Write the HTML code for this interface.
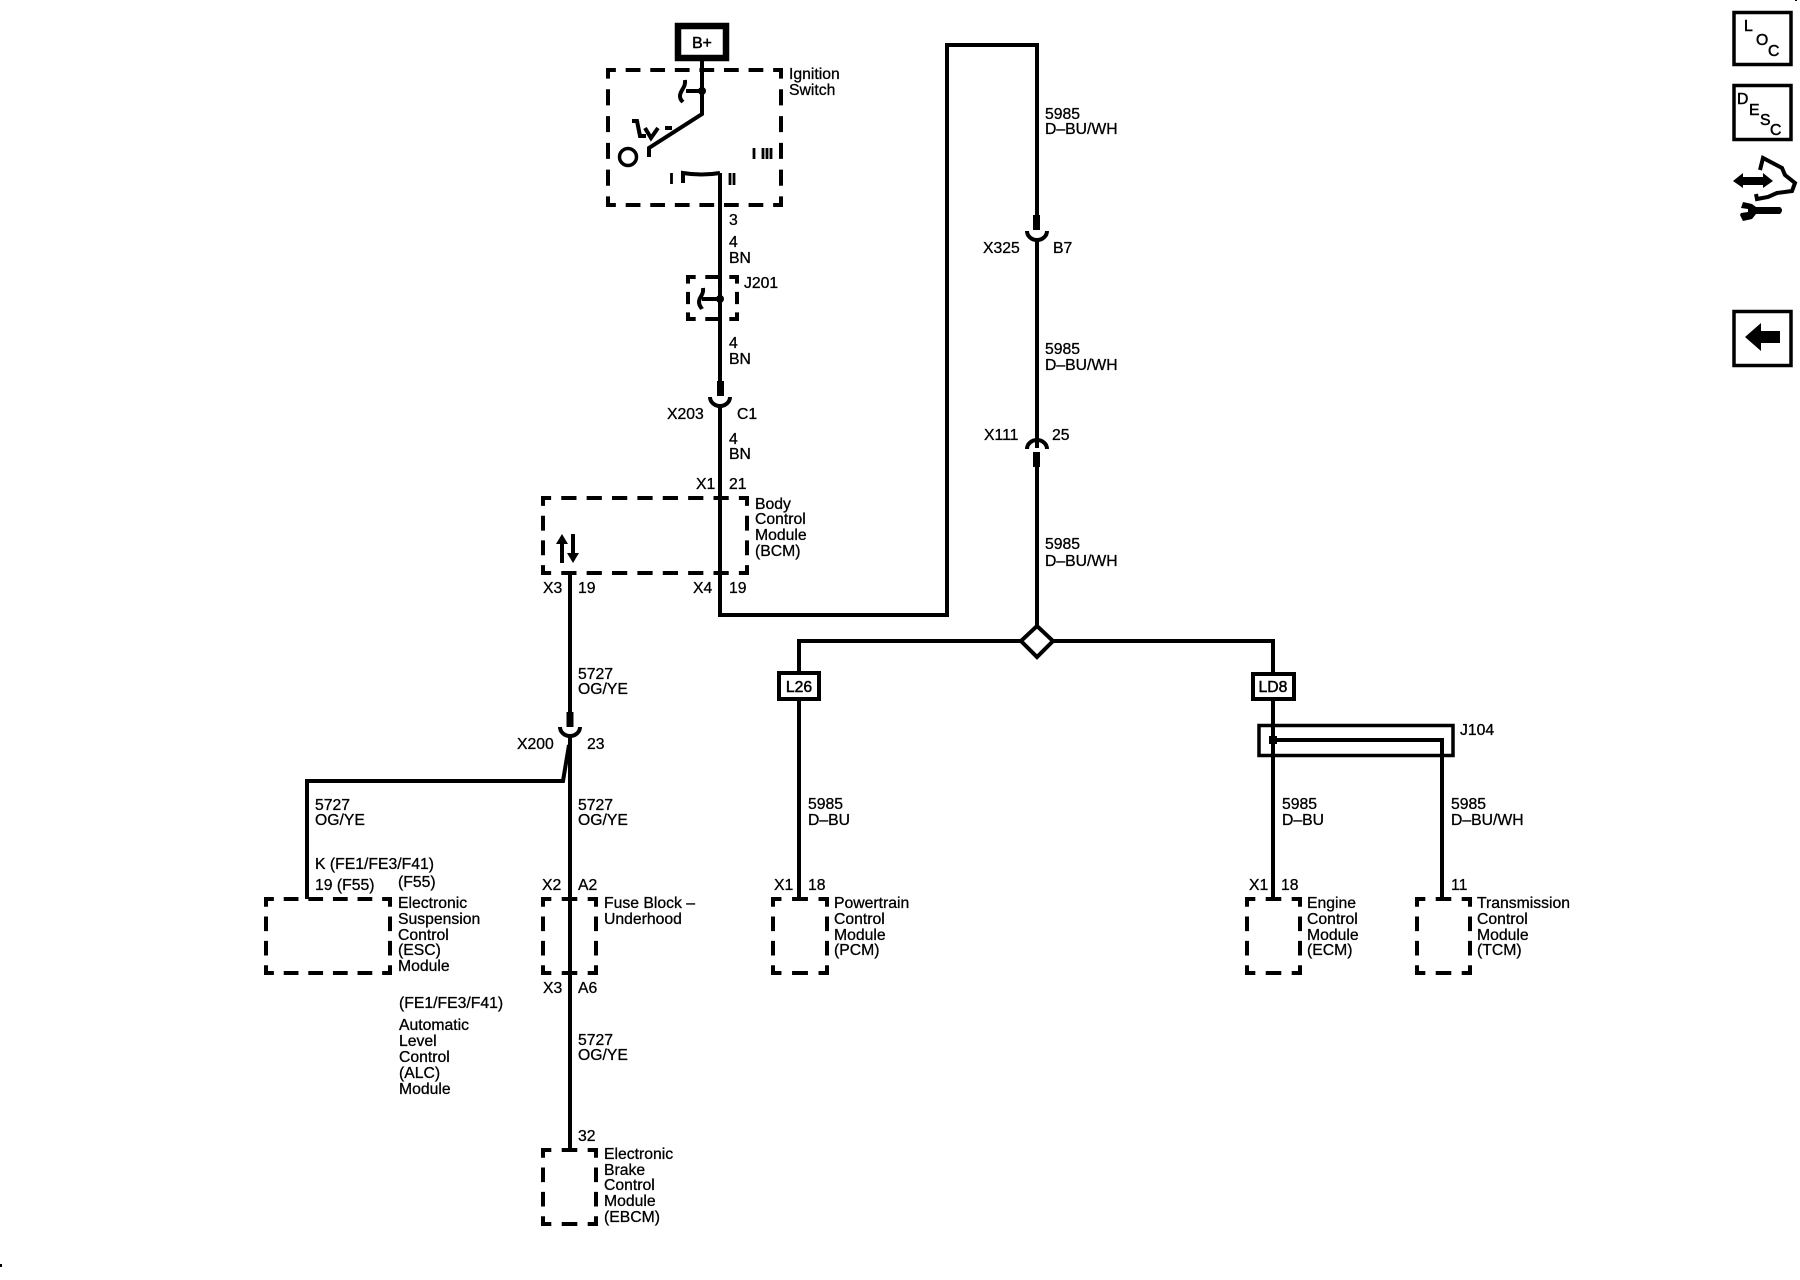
<!DOCTYPE html>
<html lang="en">
<head>
<meta charset="utf-8">
<title>Wiring diagram</title>
<style>
html,body{margin:0;padding:0;background:#fff;width:1800px;height:1280px;overflow:hidden}
svg{display:block}
text{font-family:"Liberation Sans",sans-serif;font-size:15.75px;fill:#000;stroke:#000;stroke-width:.3}
.w{fill:none;stroke:#000;stroke-width:4;stroke-linejoin:miter}
.d line{stroke:#000;stroke-width:4;stroke-dasharray:15 10;stroke-dashoffset:7}
.c{fill:none;stroke:#000;stroke-width:4;stroke-linecap:square}
.t{stroke-width:.5}
</style>
</head>
<body>
<svg width="1800" height="1280" viewBox="0 0 1800 1280" xmlns="http://www.w3.org/2000/svg">
<rect width="1800" height="1280" fill="#fff"/>

<!-- B+ box -->
<rect x="678" y="26" width="48" height="32" fill="#fff" stroke="#000" stroke-width="6.5"/>
<text x="702" y="48" text-anchor="middle" class="t">B+</text>

<!-- dashed boxes -->
<g class="d">
<line x1="608" y1="70" x2="781" y2="70" pathLength="176"/>
<line x1="608" y1="205" x2="781" y2="205" pathLength="176"/>
<line x1="608" y1="70" x2="608" y2="205" pathLength="126"/>
<line x1="781" y1="70" x2="781" y2="205" pathLength="126"/>

<line x1="688" y1="277" x2="737" y2="277" pathLength="51"/>
<line x1="688" y1="319" x2="737" y2="319" pathLength="51"/>
<line x1="688" y1="277" x2="688" y2="319" pathLength="51"/>
<line x1="737" y1="277" x2="737" y2="319" pathLength="51"/>

<line x1="543" y1="498" x2="747" y2="498" pathLength="201"/>
<line x1="543" y1="573" x2="747" y2="573" pathLength="201"/>
<line x1="543" y1="498" x2="543" y2="573" pathLength="76"/>
<line x1="747" y1="498" x2="747" y2="573" pathLength="76"/>

<line x1="266" y1="899" x2="390" y2="899" pathLength="126"/>
<line x1="266" y1="973" x2="390" y2="973" pathLength="126"/>
<line x1="266" y1="899" x2="266" y2="973" pathLength="76"/>
<line x1="390" y1="899" x2="390" y2="973" pathLength="76"/>

<line x1="543" y1="899" x2="596" y2="899" pathLength="51"/>
<line x1="543" y1="973" x2="596" y2="973" pathLength="51"/>
<line x1="543" y1="899" x2="543" y2="973" pathLength="76"/>
<line x1="596" y1="899" x2="596" y2="973" pathLength="76"/>

<line x1="543" y1="1150" x2="596" y2="1150" pathLength="51"/>
<line x1="543" y1="1224" x2="596" y2="1224" pathLength="51"/>
<line x1="543" y1="1150" x2="543" y2="1224" pathLength="76"/>
<line x1="596" y1="1150" x2="596" y2="1224" pathLength="76"/>

<line x1="773" y1="899" x2="827" y2="899" pathLength="51"/>
<line x1="773" y1="973" x2="827" y2="973" pathLength="51"/>
<line x1="773" y1="899" x2="773" y2="973" pathLength="76"/>
<line x1="827" y1="899" x2="827" y2="973" pathLength="76"/>

<line x1="1247" y1="899" x2="1300" y2="899" pathLength="51"/>
<line x1="1247" y1="973" x2="1300" y2="973" pathLength="51"/>
<line x1="1247" y1="899" x2="1247" y2="973" pathLength="76"/>
<line x1="1300" y1="899" x2="1300" y2="973" pathLength="76"/>

<line x1="1417" y1="899" x2="1470" y2="899" pathLength="51"/>
<line x1="1417" y1="973" x2="1470" y2="973" pathLength="51"/>
<line x1="1417" y1="899" x2="1417" y2="973" pathLength="76"/>
<line x1="1470" y1="899" x2="1470" y2="973" pathLength="76"/>
</g>
<path class="c" d="M608 70h0M781 70h0M608 205h0M781 205h0M688 277h0M737 277h0M688 319h0M737 319h0M543 498h0M747 498h0M543 573h0M747 573h0M266 899h0M390 899h0M266 973h0M390 973h0M543 899h0M596 899h0M543 973h0M596 973h0M543 1150h0M596 1150h0M543 1224h0M596 1224h0M773 899h0M827 899h0M773 973h0M827 973h0M1247 899h0M1300 899h0M1247 973h0M1300 973h0M1417 899h0M1470 899h0M1417 973h0M1470 973h0"/>

<!-- Ignition switch internals -->
<path class="w" d="M702 61V114L649 148V157"/>
<path class="w" d="M702 91H686"/>
<circle cx="702" cy="91" r="4"/>
<path class="w" d="M685 80C686 88 680 90 680 96C680 100 682 101 683 102" stroke-width="3"/>
<circle cx="628" cy="157" r="8.500" fill="none" stroke="#000" stroke-width="3.500"/>
<path class="w" d="M632 121H637L640 136H646" stroke-width="3.500"/>
<path class="w" d="M645 128L651 138L658 128" stroke-width="3.500"/>
<path class="w" d="M665 128H672"/>
<path class="w" d="M683 183V173C695 175 708 175 720 173"/>
<path stroke="#000" stroke-width="2.800" d="M671.500 173V184M730 173V185M734 173V185M754 148V159M763 148V159M767 148V159M771 148V159"/>

<!-- Main wire column -->
<path class="w" d="M720 173V383"/>
<path class="w" d="M720 404V615H947V45H1037V217"/>
<rect x="717" y="381" width="7" height="15"/>
<path class="w" d="M710 397A10 9 0 0 0 730 397"/>

<!-- J201 internals -->
<circle cx="720" cy="299" r="4"/>
<path class="w" d="M720 299H702"/>
<path class="w" d="M703 288C704 295 699 297 699 302C699 306 701 307 702 309" stroke-width="3"/>

<!-- BCM arrows -->
<path d="M560 563V544H556L562 534L568 544H564V563Z"/>
<path d="M571 534V553H567L573 563L579 553H575V534Z"/>

<!-- X325 / X111 connectors -->
<rect x="1033" y="215" width="7" height="15"/>
<path class="w" d="M1027 231A10 9 0 0 0 1047 231"/>
<path class="w" d="M1037 238V448"/>
<path class="w" d="M1027 449A10 9 0 0 1 1047 449"/>
<rect x="1033" y="452" width="7" height="15"/>
<path class="w" d="M1037 465V627"/>

<!-- Splice diamond -->
<path class="w" d="M1037 626L1053 641L1037 657L1021 641Z" fill="#fff"/>
<path class="w" d="M1021 641H799V671M1053 641H1273V672"/>

<!-- L26 -->
<rect x="779" y="673" width="40" height="26" fill="#fff" stroke="#000" stroke-width="4"/>
<text x="799" y="692" text-anchor="middle" class="t">L26</text>
<path class="w" d="M799 701V898"/>

<!-- LD8 -->
<rect x="1253" y="674" width="41" height="25" fill="#fff" stroke="#000" stroke-width="4"/>
<text x="1273" y="692" text-anchor="middle" class="t">LD8</text>
<path class="w" d="M1273 701V898"/>

<!-- J104 -->
<rect x="1259" y="725.500" width="194" height="30" fill="none" stroke="#000" stroke-width="3.500"/>
<path class="w" d="M1273 740H1442V898"/>
<rect x="1269" y="736" width="8" height="8"/>

<!-- Left lower column -->
<path class="w" d="M570 573V717"/>
<rect x="566.500" y="712" width="7" height="15"/>
<path class="w" d="M560 727A10 9 0 0 0 580 727"/>
<path class="w" d="M570 735V1150"/>
<path class="w" d="M569 745L563 781H307V899"/>

<!-- Labels -->
<text x="789" y="79">Ignition</text>
<text x="789" y="95">Switch</text>
<text x="729" y="225">3</text>
<text x="729" y="247">4</text><text x="729" y="263">BN</text>
<text x="744" y="288">J201</text>
<text x="729" y="348">4</text><text x="729" y="364">BN</text>
<text x="667" y="419">X203</text><text x="737" y="419">C1</text>
<text x="729" y="444">4</text><text x="729" y="459">BN</text>
<text x="696" y="489">X1</text><text x="729" y="489">21</text>
<text x="755" y="509">Body</text>
<text x="755" y="524">Control</text>
<text x="755" y="540">Module</text>
<text x="755" y="556">(BCM)</text>
<text x="543" y="593">X3</text><text x="578" y="593">19</text>
<text x="693" y="593">X4</text><text x="729" y="593">19</text>

<text x="578" y="679">5727</text><text x="578" y="694">OG/YE</text>
<text x="517" y="749">X200</text><text x="587" y="749">23</text>
<text x="315" y="810">5727</text><text x="315" y="825">OG/YE</text>
<text x="578" y="810">5727</text><text x="578" y="825">OG/YE</text>
<text x="315" y="869">K (FE1/FE3/F41)</text>
<text x="315" y="890">19 (F55)</text>
<text x="398" y="887">(F55)</text>
<text x="542" y="890">X2</text><text x="578" y="890">A2</text>
<text x="398" y="908">Electronic</text>
<text x="398" y="924">Suspension</text>
<text x="398" y="940">Control</text>
<text x="398" y="955">(ESC)</text>
<text x="398" y="971">Module</text>
<text x="604" y="908">Fuse Block –</text>
<text x="604" y="924">Underhood</text>
<text x="543" y="993">X3</text><text x="578" y="993">A6</text>
<text x="399" y="1008">(FE1/FE3/F41)</text>
<text x="399" y="1030">Automatic</text>
<text x="399" y="1046">Level</text>
<text x="399" y="1062">Control</text>
<text x="399" y="1078">(ALC)</text>
<text x="399" y="1094">Module</text>
<text x="578" y="1045">5727</text><text x="578" y="1060">OG/YE</text>
<text x="578" y="1141">32</text>
<text x="604" y="1159">Electronic</text>
<text x="604" y="1175">Brake</text>
<text x="604" y="1190">Control</text>
<text x="604" y="1206">Module</text>
<text x="604" y="1222">(EBCM)</text>

<text x="1045" y="119">5985</text><text x="1045" y="134">D–BU/WH</text>
<text x="983" y="253">X325</text><text x="1053" y="253">B7</text>
<text x="1045" y="354">5985</text><text x="1045" y="370">D–BU/WH</text>
<text x="984" y="440">X111</text><text x="1052" y="440">25</text>
<text x="1045" y="549">5985</text><text x="1045" y="566">D–BU/WH</text>
<text x="1460" y="735">J104</text>
<text x="808" y="809">5985</text><text x="808" y="825">D–BU</text>
<text x="1282" y="809">5985</text><text x="1282" y="825">D–BU</text>
<text x="1451" y="809">5985</text><text x="1451" y="825">D–BU/WH</text>
<text x="774" y="890">X1</text><text x="808" y="890">18</text>
<text x="1249" y="890">X1</text><text x="1281" y="890">18</text>
<text x="1451" y="890">11</text>
<text x="834" y="908">Powertrain</text>
<text x="834" y="924">Control</text>
<text x="834" y="940">Module</text>
<text x="834" y="955">(PCM)</text>
<text x="1307" y="908">Engine</text>
<text x="1307" y="924">Control</text>
<text x="1307" y="940">Module</text>
<text x="1307" y="955">(ECM)</text>
<text x="1477" y="908">Transmission</text>
<text x="1477" y="924">Control</text>
<text x="1477" y="940">Module</text>
<text x="1477" y="955">(TCM)</text>

<!-- Right-side icons -->
<rect x="1734" y="12.500" width="57" height="52" fill="none" stroke="#000" stroke-width="3.500"/>
<text x="1744" y="31" class="t">L</text>
<text x="1756" y="45" class="t">O</text>
<text x="1768" y="56" class="t">C</text>
<rect x="1734" y="85.500" width="57" height="54" fill="none" stroke="#000" stroke-width="3.500"/>
<text x="1737" y="104" class="t">D</text>
<text x="1749" y="115" class="t">E</text>
<text x="1760" y="125" class="t">S</text>
<text x="1770" y="135" class="t">C</text>
<path d="M1733 181L1743 173V177H1763V173L1773 181L1763 188V185H1743V188Z"/>
<path class="w" d="M1760 170L1763 158L1782 168L1785 175L1795 183L1792 191L1777 193L1768 197L1757 199L1756 194" stroke-width="3.500"/>
<path d="M1743 202L1752 204L1756 207H1780Q1784 210 1780 214H1756L1752 219L1743 221L1740 215L1741 213L1748 212L1748 209L1741 208Z"/>
<rect x="1734" y="311.500" width="57" height="54" fill="none" stroke="#000" stroke-width="3.500"/>
<path d="M1745 337L1761 323V331H1780V343H1761V351Z"/>

<rect x="0" y="1264" width="2" height="3"/>
<rect x="1795" y="0" width="2" height="1"/>
</svg>
</body>
</html>
